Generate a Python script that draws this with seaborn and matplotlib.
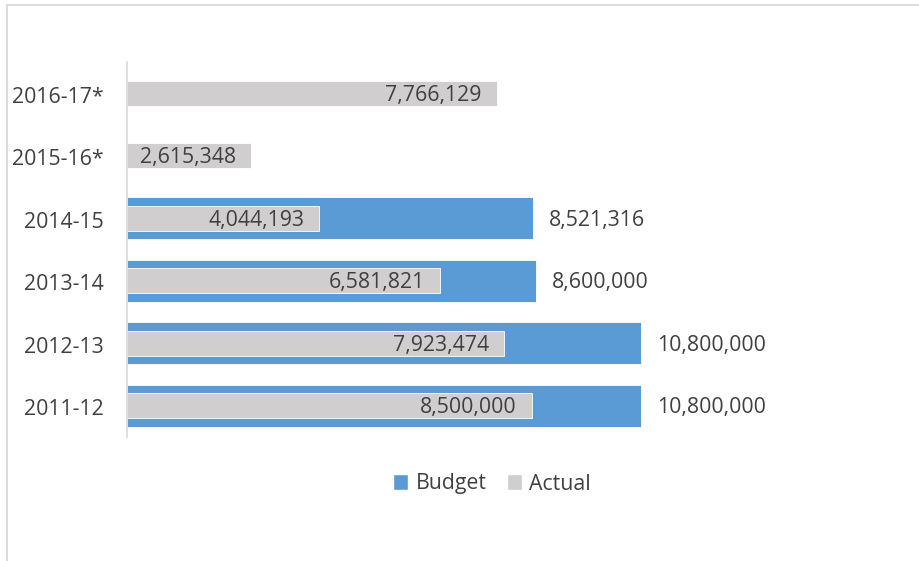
import matplotlib
matplotlib.use("Agg")
import matplotlib.pyplot as plt
from matplotlib.patches import Patch
from matplotlib.lines import Line2D
from matplotlib.transforms import offset_copy
import numpy as np
import pandas as pd
import seaborn as sns

years = ["2016-17*", "2015-16*", "2014-15", "2013-14", "2012-13", "2011-12"]
budget = [np.nan, np.nan, 8521316, 8600000, 10800000, 10800000]
actual = [7766129, 2615348, 4044193, 6581821, 7923474, 8500000]

BLUE = "#5B9BD5"
GRAY = "#D0CECE"
TEXT = "#404040"

sns.set_theme(style="white")
plt.rcParams["font.family"] = ["Open Sans", "DejaVu Sans"]
FS = 15.3

df = pd.DataFrame({"year": years, "Budget": budget, "Actual": actual})

fig = plt.figure(figsize=(9.19, 5.61), dpi=100)
W, H = 919, 561
ax = fig.add_axes([127 / W, 1 - 437 / H, (900 - 127) / W, (437 - 62) / H])

sns.barplot(data=df, x="Budget", y="year", order=years, orient="h", color=BLUE,
            width=0.67, saturation=1, edgecolor="white", linewidth=0.6, ax=ax)
sns.barplot(data=df, x="Actual", y="year", order=years, orient="h", color=GRAY,
            width=0.40, saturation=1, edgecolor="white", linewidth=0.6, ax=ax)

ax.set_xlim(0, (900 - 127) / 514 * 10800000)
ax.set_ylim(5.5, -0.5)
ax.set_xlabel("")
ax.set_ylabel("")
ax.set_xticks([])
ax.tick_params(axis="y", length=0, pad=17, labelsize=FS, labelcolor=TEXT)
for lbl in ax.get_yticklabels():
    lbl.set_transform(offset_copy(lbl.get_transform(), fig=fig, x=0, y=-1.5, units="dots"))
for s in ["top", "right", "bottom"]:
    ax.spines[s].set_visible(False)
ax.spines["left"].set_color("#D9D9D9")
ax.spines["left"].set_linewidth(1.2)

px = ax.get_xlim()[1] / (900 - 127)
shift = offset_copy(ax.transData, fig=fig, x=0, y=-2, units="dots")
for i, (b, a) in enumerate(zip(budget, actual)):
    ax.text(a - 15 * px, i, f"{a:,.0f}", ha="right", va="center",
            fontsize=FS, color=TEXT, transform=shift)
    if not np.isnan(b):
        ax.text(b + 16 * px, i, f"{b:,.0f}", ha="left", va="center",
                fontsize=FS, color=TEXT, transform=shift)

handles = [Patch(facecolor=BLUE, label="Budget"), Patch(facecolor=GRAY, label="Actual")]
fig.legend(handles=handles, loc="center", bbox_to_anchor=(492 / W, 1 - 484 / H),
           ncol=2, frameon=False, fontsize=FS, labelcolor=TEXT,
           handlelength=0.72, handleheight=0.72, handletextpad=0.35,
           columnspacing=0.95)

# chart frame
fig.add_artist(Line2D([7 / W, 1.0], [1 - 5 / H, 1 - 5 / H], color="#D9D9D9", lw=1.3))
fig.add_artist(Line2D([7 / W, 7 / W], [1 - 5 / H, 0.0], color="#D9D9D9", lw=1.3))

fig.savefig("out.png", dpi=100, facecolor="white")
